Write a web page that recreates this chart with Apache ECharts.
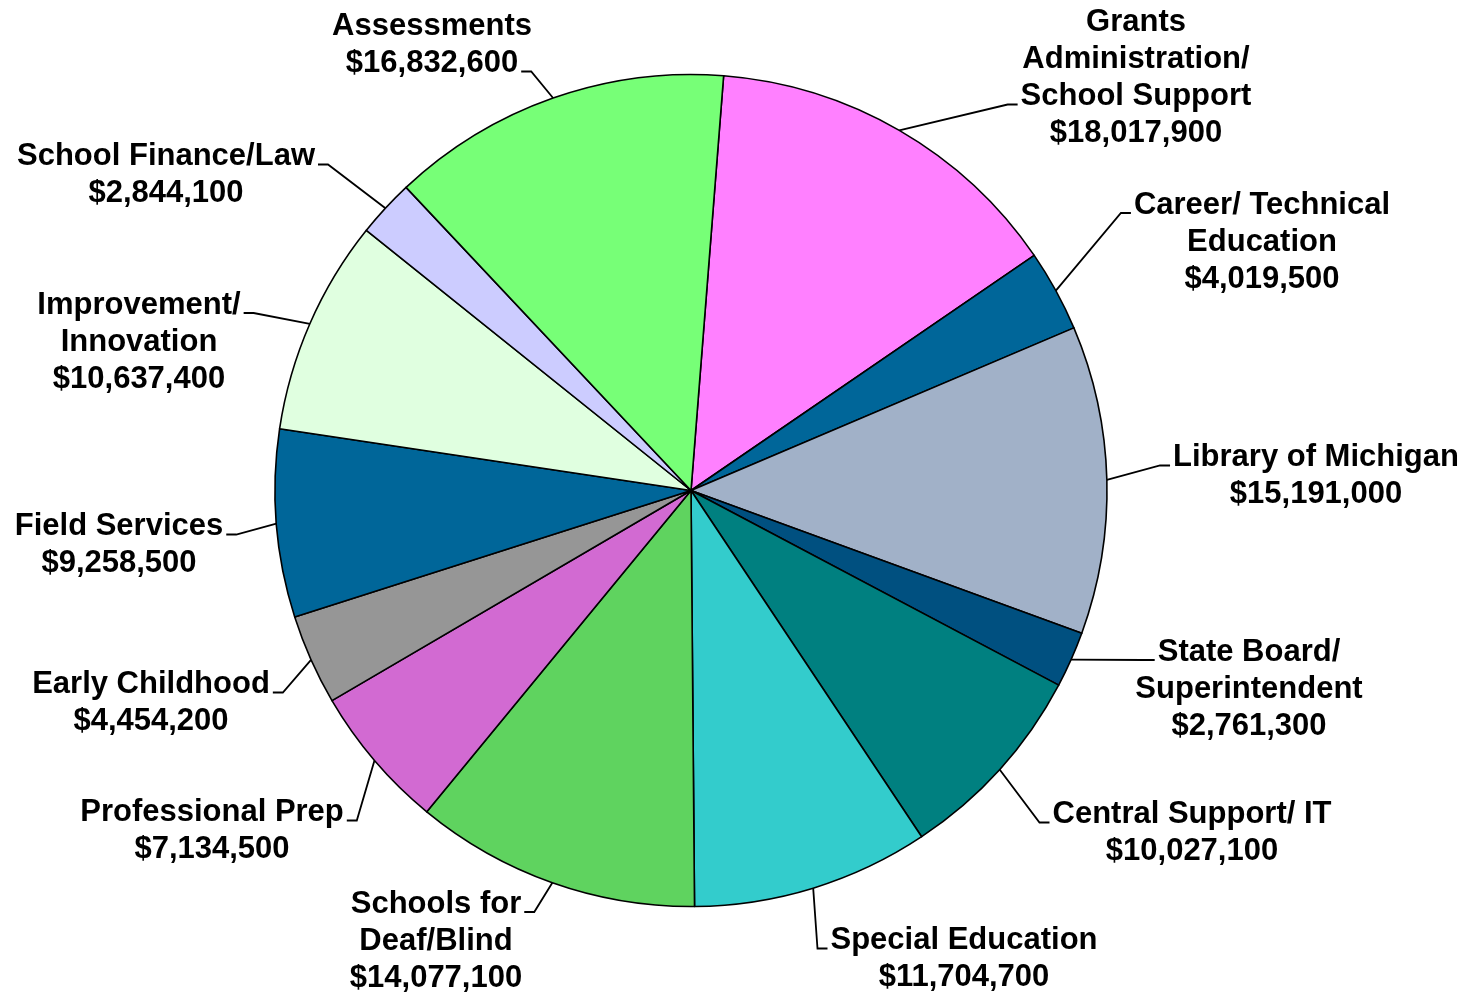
<!DOCTYPE html>
<html><head><meta charset="utf-8">
<script src="https://cdn.jsdelivr.net/npm/echarts@6/dist/echarts.min.js"></script>
<style>html,body{margin:0;padding:0;background:#fff}#chart{width:1472px;height:992px}</style>
</head><body><div id="chart"></div>
<script>
// ---- data ----
const categories = [
  'Grants\nAdministration/\nSchool Support',
  'Career/ Technical\nEducation',
  'Library of Michigan',
  'State Board/\nSuperintendent',
  'Central Support/ IT',
  'Special Education',
  'Schools for\nDeaf/Blind',
  'Professional Prep',
  'Early Childhood',
  'Field Services',
  'Improvement/\nInnovation',
  'School Finance/Law',
  'Assessments'
];
const amounts = [18017900, 4019500, 15191000, 2761300, 10027100, 11704700, 14077100, 7134500, 4454200, 9258500, 10637400, 2844100, 16832600];

// ---- styles / layout ----
const sliceColors = ['#FF80FF', '#006699', '#A1B1C8', '#005080', '#008080', '#33CCCC', '#5FD35F', '#D26AD2', '#969696', '#006699', '#E0FFE0', '#CCCCFF', '#77FF77'];
const labelCentres = [[1136,78],[1262,242],[1316,476],[1249,689],[1192,833],[964,959],[436,941],[212,831],[151,703],[119,545],[139,342],[166,175],[432,45]];
const attachLine = [2,0,0,0,0,0,0,0,0,0,0,0,1];
const PIE_CX = 691, PIE_CY = 490.5, PIE_R = 416;
const FONT_SIZE = 31, LINE_H = 37;
const FONT = 'bold ' + FONT_SIZE + 'px "Liberation Sans", Arial, sans-serif';

const ctx = document.createElement('canvas').getContext('2d');
ctx.font = FONT;
function money(v) { return '$' + v.toLocaleString('en-US'); }
function labelText(i) { return categories[i] + '\n' + money(amounts[i]); }

const chart = echarts.init(document.getElementById('chart'), null, {renderer: 'canvas'});
chart.setOption({
  animation: false,
  backgroundColor: '#ffffff',
  series: [{
    type: 'pie',
    center: [PIE_CX, PIE_CY],
    radius: PIE_R,
    startAngle: 85.5,
    clockwise: true,
    avoidLabelOverlap: false,
    data: categories.map((c, i) => ({ name: c, value: amounts[i], itemStyle: { color: sliceColors[i] } })),
    itemStyle: { borderColor: '#000', borderWidth: 1.6 },
    emphasis: { disabled: true },
    label: {
      show: true,
      position: 'outside',
      formatter: p => labelText(p.dataIndex),
      color: '#000',
      fontFamily: '"Liberation Sans", Arial, sans-serif',
      fontWeight: 'bold',
      fontSize: FONT_SIZE,
      lineHeight: LINE_H,
      align: 'center'
    },
    labelLine: { show: true, length: 20, length2: 10, smooth: false, lineStyle: { color: '#000', width: 1.8 } },
    labelLayout: function (p) {
      const i = p.dataIndex;
      const cx = labelCentres[i][0], cy = labelCentres[i][1];
      const lines = labelText(i).split('\n');
      const n = lines.length;
      const k = attachLine[i];
      const ly = cy + (k - (n - 1) / 2) * LINE_H + 8;
      const w = ctx.measureText(lines[k]).width;
      const right = cx > PIE_CX;
      const ex = right ? cx - w / 2 - 3 : cx + w / 2 + 3;
      const mx = right ? ex - 10 : ex + 10;
      const start = p.labelLinePoints[0];
      return {
        x: cx, y: cy, align: 'center', verticalAlign: 'middle',
        labelLinePoints: [[start[0], start[1]], [mx, ly], [ex, ly]]
      };
    }
  }]
});
</script>
</body></html>
